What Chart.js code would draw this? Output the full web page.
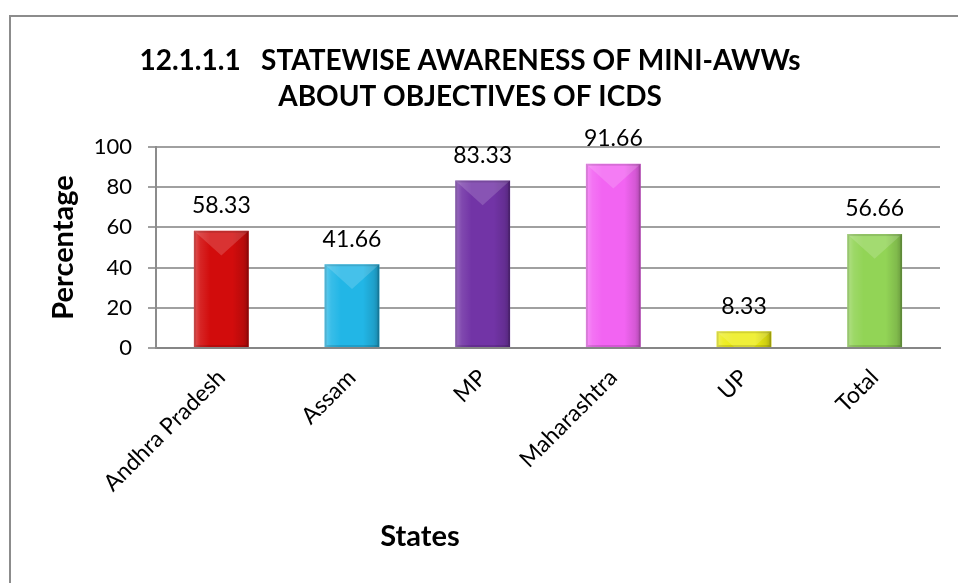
<!DOCTYPE html>
<html><head><meta charset="utf-8">
<script src="https://cdn.jsdelivr.net/npm/chart.js@4.4.1/dist/chart.umd.min.js"></script>
<style>html,body{margin:0;padding:0;background:#fff}#wrap{width:958px;height:583px;position:relative}</style>
</head><body><div id="wrap"><canvas id="c" width="958" height="583"></canvas></div>
<script>
const categories = ['Andhra Pradesh', 'Assam', 'MP', 'Maharashtra', 'UP', 'Total'];
const values = [58.33, 41.66, 83.33, 91.66, 8.33, 56.66];
const valueLabels = ['58.33', '41.66', '83.33', '91.66', '8.33', '56.66'];
const barColors = ['#d20c0c', '#22b6e6', '#7234a6', '#f264f2', '#ecec14', '#92d456'];
const yTicks = [0, 20, 40, 60, 80, 100];
const titleLines = ['12.1.1.1   STATEWISE AWARENESS OF MINI-AWWs', 'ABOUT OBJECTIVES OF ICDS'];
const yTitle = 'Percentage';
const xTitle = 'States';

const FONT = 'Lato, "Open Sans", sans-serif';

const framePlugin = {
  id: 'frame',
  beforeDraw(chart) {
    const ctx = chart.ctx;
    ctx.save();
    ctx.fillStyle = '#fff';
    ctx.fillRect(0, 0, chart.width, chart.height);
    ctx.strokeStyle = '#8c8c8c';
    ctx.lineWidth = 2;
    ctx.strokeRect(10, 16, 1000, 1000);
    ctx.restore();
  }
};

const bevelPlugin = {
  id: 'bevel',
  afterDatasetsDraw(chart) {
    const ctx = chart.ctx;
    const meta = chart.getDatasetMeta(0);
    meta.data.forEach((el) => {
      const p = el.getProps(['x', 'y', 'base', 'width'], true);
      const l = p.x - p.width / 2, r = p.x + p.width / 2;
      const top = Math.min(p.y, p.base), bot = Math.max(p.y, p.base);
      ctx.save();
      ctx.beginPath();
      ctx.rect(l, top, p.width, bot - top);
      ctx.clip();
      const g = ctx.createLinearGradient(l, 0, r, 0);
      g.addColorStop(0, 'rgba(255,255,255,0.30)');
      g.addColorStop(0.12, 'rgba(255,255,255,0.10)');
      g.addColorStop(0.3, 'rgba(255,255,255,0.0)');
      g.addColorStop(0.7, 'rgba(0,0,0,0.0)');
      g.addColorStop(0.9, 'rgba(0,0,0,0.12)');
      g.addColorStop(1, 'rgba(0,0,0,0.28)');
      ctx.fillStyle = g;
      ctx.fillRect(l, top, p.width, bot - top);
      ctx.beginPath();
      ctx.moveTo(l, top);
      ctx.lineTo(r, top);
      ctx.lineTo(p.x, top + p.width * 0.45);
      ctx.closePath();
      ctx.fillStyle = 'rgba(255,255,255,0.16)';
      ctx.fill();
      ctx.strokeStyle = 'rgba(0,0,0,0.12)';
      ctx.lineWidth = 2;
      ctx.strokeRect(l + 1, top + 1, p.width - 2, bot - top - 2);
      ctx.restore();
    });
  }
};

const labelPlugin = {
  id: 'valueLabels',
  afterDatasetsDraw(chart) {
    const ctx = chart.ctx;
    const meta = chart.getDatasetMeta(0);
    ctx.save();
    ctx.font = '23px ' + FONT;
    ctx.fillStyle = '#000';
    ctx.textAlign = 'center';
    ctx.textBaseline = 'middle';
    meta.data.forEach((el, i) => {
      const p = el.getProps(['x', 'y'], true);
      ctx.fillText(valueLabels[i], p.x, p.y - 25);
    });
    ctx.restore();
  }
};

const axisTitlePlugin = {
  id: 'axisTitles',
  afterDraw(chart) {
    const ctx = chart.ctx;
    const area = chart.chartArea;
    ctx.save();
    ctx.fillStyle = '#000';
    ctx.font = 'bold 29px ' + FONT;
    ctx.textAlign = 'center';
    ctx.textBaseline = 'middle';
    ctx.fillText(xTitle, 420, 537);
    ctx.translate(64, (area.top + area.bottom) / 2);
    ctx.rotate(-Math.PI / 2);
    ctx.fillText(yTitle, 0, 0);
    ctx.restore();
  }
};

new Chart(document.getElementById('c'), {
  type: 'bar',
  data: {
    labels: categories,
    datasets: [{
      data: values,
      backgroundColor: barColors,
      borderWidth: 0,
      barPercentage: 0.42,
      categoryPercentage: 1.0
    }]
  },
  options: {
    responsive: false,
    animation: false,
    devicePixelRatio: 1,
    layout: { padding: { left: 0, right: 18, top: 0, bottom: 0 } },
    plugins: {
      legend: { display: false },
      tooltip: { enabled: false },
      title: {
        display: true,
        text: titleLines,
        color: '#000',
        font: { family: FONT, size: 28, weight: 'bold', lineHeight: 1.32 },
        padding: { top: 42, bottom: 31 }
      }
    },
    scales: {
      x: {
        grid: { display: true, drawOnChartArea: false, drawTicks: false },
        border: { display: true, color: '#868686', width: 2 },
        ticks: {
          color: '#000',
          font: { family: FONT, size: 23 },
          minRotation: 45,
          maxRotation: 45,
          padding: 16
        },
        afterFit(scale) { scale.height = 235; }
      },
      y: {
        min: 0,
        max: 100,
        afterBuildTicks(scale) { scale.ticks = yTicks.map(v => ({ value: v })); },
        grid: { color: '#a0a0a0', lineWidth: 2, drawTicks: true, tickLength: 8, tickColor: '#a0a0a0' },
        border: { display: true, color: '#8c8c8c', width: 2 },
        ticks: {
          color: '#000',
          font: { family: FONT, size: 22 },
          padding: 16
        },
        afterFit(scale) { scale.width = 156; }
      }
    }
  },
  plugins: [framePlugin, bevelPlugin, labelPlugin, axisTitlePlugin]
});
</script>
</body></html>
